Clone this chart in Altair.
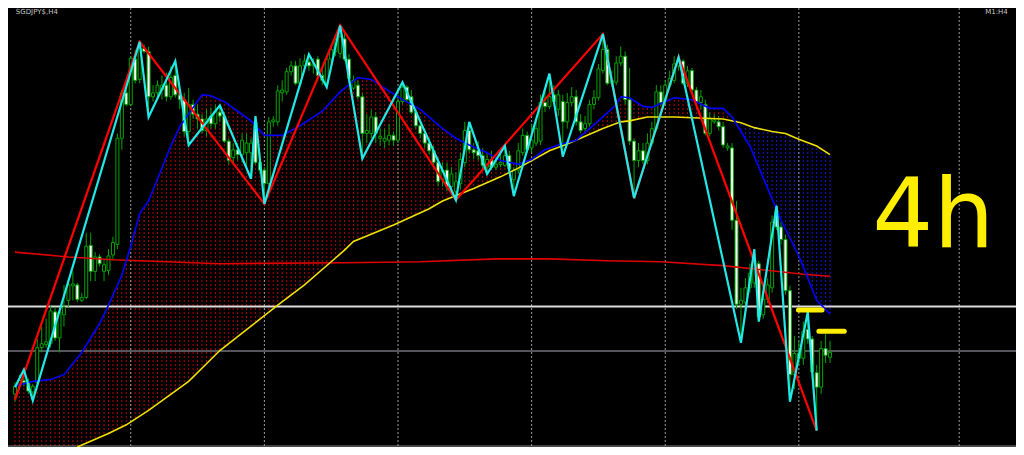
import altair as alt
import pandas as pd

# ---------------- data (bar index 0..183, level measured down from chart top) ----------------
open_ = [400,392,386,388,398,388,352,349,348,315, 342,318,303,288,287,303,300,246,273,258,
         273,272,256,245,135,88,100,53,74,42, 45,92,88,85,80,92,70,90,95,128,
         100,110,115,127,112,120,108,112,138,155, 147,152,150,150,118,160,168,182,118,118,
         88,87,66,60,78,60,56,60,53,70, 77,53,45,47,32,53,83,80,92,130,
         130,113,135,138,137,132,137,97,82,92, 108,122,130,140,148,160,178,168,185,190,
         182,160,127,147,148,153,165,157,165,162, 163,153,178,168,150,132,145,140,138,98,
         102,90,105,97,118,98,92,118,125,120, 100,93,65,43,78,77,57,50,95,138,
         158,148,158,140,125,87,97,80,75,60, 55,78,65,85,98,100,130,118,118,123,
         145,145,220,307,305,290,285,265,318,302, 290,210,227,240,293,380,358,363,333,343,
         378,393,353,362]
high = [388,380,375,384,390,343,330,322,308,310, 310,287,280,273,285,295,233,233,253,255,
        260,250,237,130,85,83,50,43,35,38, 40,80,75,70,67,60,55,85,88,83,
        95,100,110,105,103,100,101,108,135,140, 140,130,130,135,112,150,165,113,112,80,
        75,62,55,55,52,48,48,52,50,62, 50,38,28,18,25,48,70,75,88,110,
        105,108,125,125,120,128,90,77,80,85, 105,115,125,135,143,155,160,160,165,170,
        150,118,118,140,138,145,150,148,155,150, 143,148,165,140,125,128,120,115,90,85,
        68,80,85,90,88,82,85,110,112,95, 85,58,27,38,65,50,40,45,62,135,
        140,140,130,118,80,80,75,65,50,51, 53,60,62,82,85,95,108,110,112,118,
        140,140,200,290,280,265,250,262,295,280, 215,205,222,235,288,340,345,325,315,340,
        370,345,338,345]
low = [408,396,392,400,407,390,357,352,352,345, 357,330,310,303,305,305,302,283,283,268,
       283,277,260,250,147,102,102,78,78,47, 113,97,92,95,97,95,93,105,133,142,
       115,125,130,133,125,125,118,140,162,160, 158,160,165,177,162,172,203,185,123,122,
       97,90,70,80,82,65,65,68,72,80, 82,57,50,52,55,78,85,95,156,140,
       135,140,143,145,142,143,140,100,98,110, 125,135,145,152,165,185,185,190,192,199,
       188,165,150,157,158,168,172,168,168,165, 165,170,195,172,153,150,150,143,142,108,
       105,100,112,154,125,102,122,130,128,123, 105,96,68,80,82,80,60,100,142,197,
       165,162,162,143,128,102,100,83,78,65, 80,82,88,103,105,132,133,120,127,145,
       148,230,312,347,315,295,290,325,322,306, 295,230,245,297,408,395,370,370,348,385,
       438,400,368,368]
close = [392,386,388,397,392,352,348,346,314,342, 315,310,287,286,302,300,247,273,258,265,
         266,257,243,135,88,100,52,75,42,45, 92,88,80,80,92,72,90,95,128,100,
         110,115,127,115,120,107,112,138,158,147, 152,137,140,140,160,168,182,118,116,86,
         85,66,60,78,60,55,60,58,70,75, 53,43,33,30,53,73,75,92,130,127,
         113,130,133,135,132,137,97,82,95,108, 122,130,140,148,160,180,168,185,172,180,
         157,127,147,150,153,163,157,165,162,160, 153,167,168,148,132,147,137,125,98,102,
         92,97,90,118,98,92,118,127,120,100, 93,63,43,78,75,57,50,95,138,158,
         148,158,140,125,87,98,80,73,58,55, 78,65,85,98,92,130,115,116,123,142,
         143,220,307,303,290,275,262,320,302,287, 222,227,240,293,380,358,363,335,343,377,
         393,353,360,357]

# fast moving average (blue)
blue_i = [0,4,8,11,15,19,21,24,26,28,30,35,37,42,44,47,50,53,56,60,64,69,73,77,80,83,87,91,
          96,99,102,106,109,113,116,119,122,126,131,135,136,138,141,143,148,152,156,159,161,
          165,169,172,176,180,183]
blue_v = [392,387,385,380,357,327,308,277,247,213,200,143,123,90,91,97,107,117,132,132,122,107,
          87,72,74,83,95,105,125,135,142,150,158,162,157,147,142,137,117,100,92,93,102,103,93,
          95,104,104,113,143,187,220,257,303,317]
# slow moving average (yellow)
yellow_i = [14,21,25,30,39,46,51,59,65,71,74,76,85,93,96,103,109,113,120,124,128,132,136,138,
            142,148,159,163,166,170,173,176,180,183]
yellow_v = [455,441,432,417,387,355,337,308,287,263,251,242,225,208,200,187,175,166,148,141,133,
            125,118,117,113,113,115,119,124,128,130,136,143,152]
# long moving average (red)
redma_i = [0,12,22,46,74,91,108,120,133,145,159,177,183]
redma_v = [253,258,261,265,264,263,260,260,262,263,267,276,278]
# zigzag swings
zz_red_i = [0,28,56,73,99,132,139,149,180]
zz_red_v = [406,35,203,18,199,27,197,51,438]
zz_cyan_i = [0,2,4,28,30,36,39,46,53,54,56,66,70,73,78,87,99,102,106,110,112,120,123,132,139,
             149,163,166,167,171,174,178,180]
zz_cyan_v = [393,375,407,35,113,55,142,101,177,112,203,48,82,18,156,77,199,118,172,143,195,68,
             154,27,197,51,347,250,325,205,408,315,438]
grid_i = [26, 56, 86, 116, 146, 176, 212]
level_white = 309.5
level_gray = 355.5
level_bottom = 454
hatch_split = 161          # last bar where fast MA is above slow MA
symbol_text = "SGDJPY$,H4"
corner_text = "M1:H4"
note_text = "4h"
note_marks_i = [[175.9, 181.2], [180.5, 186.2]]
note_marks_v = [313, 335]

# ---------------- styling ----------------
W, H = 1008, 439
GREEN = "#00a400"
XS = alt.Scale(domain=[-0.44, 223.63], nice=False, zero=False)
YS = alt.Scale(domain=[0, 455], reverse=True, nice=False, zero=False)


def X(f="i"):
    return alt.X(f"{f}:Q", scale=XS, axis=None)


def Y(f="v"):
    return alt.Y(f"{f}:Q", scale=YS, axis=None)


n = len(close)
cdf = pd.DataFrame({"i": list(range(n)), "open": open_, "high": high, "low": low, "close": close})

blue = pd.DataFrame({"i": blue_i, "v": blue_v})
yellow = pd.DataFrame({"i": yellow_i, "v": yellow_v})
redma = pd.DataFrame({"i": redma_i, "v": redma_v})

# hatch between fast and slow MA
hatch = pd.DataFrame({"i": list(range(n))})
hatch["t"] = 0
hatch["b"] = 455
hatch_up = hatch[hatch.i <= hatch_split]
hatch_dn = hatch[hatch.i > hatch_split]

upper = pd.concat([blue[blue.i <= hatch_split], yellow[yellow.i >= hatch_split + 2]])
upper = pd.concat([pd.DataFrame({"i": [-0.6], "v": [upper.v.iloc[0]]}), upper,
                   pd.DataFrame({"i": [n - 0.4], "v": [upper.v.iloc[-1]]})])
upper["edge"] = 0
lower = pd.concat([yellow[yellow.i <= hatch_split - 2], blue[blue.i >= hatch_split]])
lower = pd.concat([lower, pd.DataFrame({"i": [n - 0.4], "v": [lower.v.iloc[-1]]})])
lower["edge"] = 455

hatch_red = alt.Chart(hatch_up).mark_rule(color="#b40000", strokeWidth=1, strokeDash=[2, 2], clip=True).encode(
    x=X(), y=Y("t"), y2="b:Q")
hatch_blue = alt.Chart(hatch_dn).mark_rule(color="#1414d2", strokeWidth=1, strokeDash=[2, 2], clip=True).encode(
    x=X(), y=Y("t"), y2="b:Q")
mask_up = alt.Chart(upper).mark_area(color="black", orient="vertical", clip=True).encode(x=X(), y=Y(), y2="edge:Q")
mask_lo = alt.Chart(lower).mark_area(color="black", orient="vertical", clip=True).encode(x=X(), y=Y(), y2="edge:Q")

grid = alt.Chart(pd.DataFrame({"i": grid_i, "t": 0, "b": 455})).mark_rule(
    color="#9a9a9a", strokeWidth=1, strokeDash=[2, 2]).encode(x=X(), y=Y("t"), y2="b:Q")

white_rule = alt.Chart(pd.DataFrame({"v": [level_white]})).mark_rule(color="#dcdcdc", strokeWidth=2).encode(y=Y())
gray_rule = alt.Chart(pd.DataFrame({"v": [level_gray]})).mark_rule(color="#55555c", strokeWidth=2).encode(y=Y())
bottom_rule = alt.Chart(pd.DataFrame({"v": [level_bottom]})).mark_rule(color="#8a8a8a", strokeWidth=1).encode(y=Y())

wicks = alt.Chart(cdf).mark_rule(color=GREEN, strokeWidth=1).encode(x=X(), y=Y("high"), y2="low:Q")
bodies = alt.Chart(cdf).mark_bar(size=3, stroke=GREEN, strokeWidth=1).encode(
    x=X(), y=Y("open"), y2="close:Q",
    fill=alt.condition("datum.close > datum.open", alt.value("#ffffff"), alt.value("#000000")))

redma_line = alt.Chart(redma).mark_line(color="#e00000", strokeWidth=1.6, clip=True).encode(x=X(), y=Y())
yellow_line = alt.Chart(yellow).mark_line(color="#f0e000", strokeWidth=1.6, clip=True).encode(x=X(), y=Y())
blue_line = alt.Chart(blue).mark_line(color="#0000ff", strokeWidth=1.6, clip=True).encode(x=X(), y=Y())

zz_red = alt.Chart(pd.DataFrame({"i": zz_red_i, "v": zz_red_v})).mark_line(
    color="#ff0000", strokeWidth=2.2, clip=True).encode(x=X(), y=Y())
zz_cyan = alt.Chart(pd.DataFrame({"i": zz_cyan_i, "v": zz_cyan_v})).mark_line(
    color="#22e8e8", strokeWidth=2.2, clip=True).encode(x=X(), y=Y())

marks_df = pd.DataFrame({"i": [a for a, b in note_marks_i], "i2": [b for a, b in note_marks_i], "v": note_marks_v})
note_marks = alt.Chart(marks_df).mark_rule(color="#ffee00", strokeWidth=5, strokeCap="round").encode(
    x=X(), x2="i2:Q", y=Y())
note = alt.Chart(pd.DataFrame({"i": [192.5], "v": [248], "t": [note_text]})).mark_text(
    align="left", baseline="alphabetic", fontSize=96, font="DejaVu Sans", color="#ffee00").encode(
    x=X(), y=Y(), text="t:N")

corner_l = alt.Chart(pd.DataFrame({"i": [0.2], "v": [0.5], "t": [symbol_text]})).mark_text(
    align="left", baseline="top", fontSize=7, font="DejaVu Sans", color="#c8c8c8").encode(
    x=X(), y=Y(), text="t:N")
corner_r = alt.Chart(pd.DataFrame({"i": [222.9], "v": [0.5], "t": [corner_text]})).mark_text(
    align="right", baseline="top", fontSize=7, font="DejaVu Sans", color="#c8c8c8").encode(
    x=X(), y=Y(), text="t:N")

chart = alt.layer(
    hatch_red, hatch_blue, mask_up, mask_lo, grid, white_rule, gray_rule, bottom_rule, wicks, bodies,
    redma_line, yellow_line, blue_line, zz_red, zz_cyan, note_marks, note, corner_l, corner_r
).properties(
    width=W, height=H, background="black", padding=0,
    autosize=alt.AutoSizeParams(type="none")
).configure_view(stroke=None)

chart.save("out.html", embed_options={"renderer": "svg", "actions": False})
